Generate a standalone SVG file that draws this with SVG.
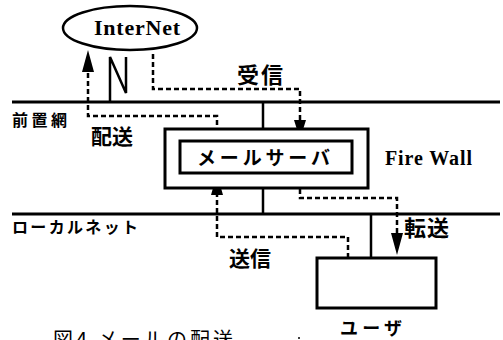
<svg xmlns="http://www.w3.org/2000/svg" width="503" height="340" viewBox="0 0 503 340">
<style>
.net{stroke:#000;stroke-width:3;fill:none}
.sol{stroke:#000;stroke-width:2.5;fill:none}
.dash{stroke:#000;stroke-width:2.5;fill:none;stroke-dasharray:5 3}
.box{fill:#fff;stroke:#000;stroke-width:3}
.jp{font-family:"Noto Sans CJK JP","Noto Sans CJK SC",sans-serif;font-weight:bold;fill:#000}
.en{font-family:"Liberation Serif",serif;font-weight:bold;fill:#000}
</style>
<rect width="503" height="340" fill="#fff"/>
<g id="connectors">
<line class="net" x1="12" y1="102" x2="500" y2="102"/>
<line class="net" x1="12" y1="214" x2="500" y2="214"/>
<polyline class="sol" points="110,102 110,57 126,93 126,57"/>
<line class="sol" x1="263" y1="102" x2="263" y2="129"/>
<line class="sol" x1="263" y1="188" x2="263" y2="214"/>
<line class="sol" x1="371" y1="214" x2="371" y2="258"/>
<path class="dash" d="M217,141 L217,116 L88,116 L88,70"/>
<path d="M82,72 L88,50 L94,72 Z" fill="#000"/>
<path class="dash" d="M153,54 L153,89 L300,89 L300,122"/>
<path d="M294,120 L300,139 L306,120 Z" fill="#000"/>
<path class="dash" d="M300,173 L300,198 L397,198 L397,235"/>
<path d="M391,233 L397,255 L403,233 Z" fill="#000"/>
<path class="dash" d="M348,258 L348,237 L217,237 L217,193"/>
<path d="M211,195 L217,174 L223,195 Z" fill="#000"/>
</g>
<g id="internet">
<ellipse cx="130" cy="28" rx="67" ry="22" fill="#fff" stroke="#000" stroke-width="2.5"/>
<text class="en" x="137" y="35" font-size="22" text-anchor="middle" textLength="86">InterNet</text>
</g>
<g id="firewall">
<rect class="box" x="165" y="129" width="203" height="59"/>
<text class="en" x="385" y="165" font-size="20" textLength="87">Fire Wall</text>
</g>
<g id="mailserver">
<rect class="box" x="180" y="141" width="172" height="32" stroke-width="3.5"/>
<text class="jp" x="197" y="165" font-size="19" textLength="133">メールサーバ</text>
</g>
<g id="user">
<rect class="box" x="317" y="258" width="119" height="50"/>
<text class="jp" x="340" y="335" font-size="18" textLength="62">ユーザ</text>
</g>
<g id="labels">
<text class="jp" x="12" y="126" font-size="16" textLength="55">前置網</text>
<text class="jp" x="12" y="233" font-size="16" textLength="126">ローカルネット</text>
<text class="jp" x="91" y="144" font-size="21" textLength="42">配送</text>
<text class="jp" x="237" y="83" font-size="22" textLength="46">受信</text>
<text class="jp" x="404" y="236" font-size="22" textLength="45">転送</text>
<text class="jp" x="229" y="266" font-size="21" textLength="42">送信</text>
<text class="jp" x="53" y="347" font-size="20" style="font-weight:normal" textLength="180">図4 メールの配送</text>
<circle cx="299" cy="338" r="1" fill="#000"/>
</g>
</svg>
